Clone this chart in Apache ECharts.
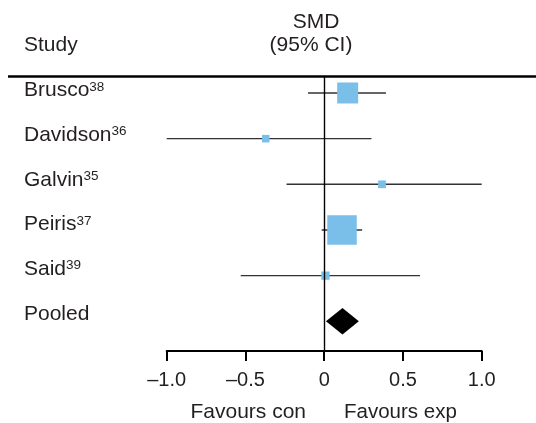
<!DOCTYPE html>
<html><head><meta charset="utf-8">
<script src="https://cdn.jsdelivr.net/npm/echarts@6/dist/echarts.min.js"></script>
<style>html,body{margin:0;padding:0;background:#fff}#c{width:536px;height:423px}</style>
</head><body><div id="c"></div>
<script>
// ---- data ----
const studies = ['Brusco', 'Davidson', 'Galvin', 'Peiris', 'Said', 'Pooled'];
const refs = ['38', '36', '35', '37', '39', ''];
const smd = [0.149, -0.371, 0.367, 0.113, 0.008];
const ciLow = [-0.103, -1.0, -0.239, -0.016, -0.53];
const ciHigh = [0.392, 0.30, 1.0, 0.241, 0.608];
const weights = [29.5, 3.8, 4.0, 58.2, 4.6]; // relative weight (%)
const pooled = [0.116, 0.011, 0.22]; // estimate, low, high
const xTicks = [-1.0, -0.5, 0, 0.5, 1.0];

const FONT = 'Liberation Sans, Arial, Helvetica, sans-serif';
const TXT = '#231f20';
const chart = echarts.init(document.getElementById('c'), null, {renderer: 'canvas'});

const studyData = smd.map((v, i) => [v, i, ciLow[i], ciHigh[i], weights[i]]);
const labelData = studies.map((s, i) => [0, i]);

chart.setOption({
  animation: false,
  grid: {left: 166.7, right: 54.3, top: 77, bottom: 72},
  xAxis: {
    type: 'value', min: -1, max: 1, interval: 0.5,
    axisLine: {show: true, onZero: false, lineStyle: {color: '#000', width: 2}},
    axisTick: {show: true, length: 10, inside: false, lineStyle: {color: '#000', width: 2}},
    splitLine: {show: false},
    axisLabel: {
      margin: 19, color: TXT, fontSize: 20, fontFamily: FONT,
      formatter: function (v) {
        const t = xTicks.find(x => Math.abs(x - v) < 1e-9);
        if (t === undefined) return '';
        if (t === 0) return '0';
        return (t < 0 ? '\u2013' : '') + Math.abs(t).toFixed(1);
      }
    }
  },
  yAxis: [
    {type: 'value', inverse: true, min: -0.35, max: 5.65, show: false},
    {type: 'value', inverse: true, min: -0.28, max: 5.855, show: false}
  ],
  graphic: [
    {type: 'line', shape: {x1: 8, y1: 76.5, x2: 536, y2: 76.5}, style: {stroke: '#000', lineWidth: 2.5}},
    {type: 'text', x: 24, y: 45, style: {text: 'Study', fill: TXT, font: '21px ' + FONT, verticalAlign: 'middle'}},
    {type: 'text', x: 316, y: 22, style: {text: 'SMD', fill: TXT, font: '21px ' + FONT, align: 'center', verticalAlign: 'middle'}},
    {type: 'text', x: 311, y: 45, style: {text: '(95% CI)', fill: TXT, font: '21px ' + FONT, align: 'center', verticalAlign: 'middle'}},
    {type: 'text', x: 306, y: 412, style: {text: 'Favours con', fill: TXT, font: '21px ' + FONT, align: 'right', verticalAlign: 'middle'}},
    {type: 'text', x: 344, y: 412, style: {text: 'Favours exp', fill: TXT, font: '20.5px ' + FONT, align: 'left', verticalAlign: 'middle'}}
  ],
  series: [
    {
      type: 'custom', coordinateSystem: 'cartesian2d', xAxisIndex: 0, yAxisIndex: 0,
      data: studyData, clip: false, silent: true,
      renderItem: function (params, api) {
        const y = api.value(1);
        const p = api.coord([api.value(0), y]);
        const a = api.coord([api.value(2), y]);
        const b = api.coord([api.value(3), y]);
        const s = Math.sqrt(api.value(4)) * 3.866;
        return {type: 'group', children: [
          {type: 'line', shape: {x1: a[0], y1: a[1], x2: b[0], y2: b[1]}, style: {stroke: '#333', lineWidth: 1.4}},
          {type: 'rect', shape: {x: p[0] - s / 2, y: p[1] - s / 2, width: s, height: s}, style: {fill: '#79bfea'}}
        ]};
      },
      markLine: {
        silent: true, symbol: 'none', label: {show: false},
        lineStyle: {color: '#000', width: 1.4, type: 'solid'},
        data: [{xAxis: 0}]
      },
      z: 3
    },
    {
      type: 'custom', coordinateSystem: 'cartesian2d', xAxisIndex: 0, yAxisIndex: 0,
      data: [[pooled[0], 5, pooled[1], pooled[2]]], clip: false, silent: true,
      renderItem: function (params, api) {
        const y = api.value(1);
        const c = api.coord([api.value(0), y]);
        const a = api.coord([api.value(2), y]);
        const b = api.coord([api.value(3), y]);
        const h = 13.3;
        return {type: 'polygon', shape: {points: [[a[0], c[1]], [c[0], c[1] - h], [b[0], c[1]], [c[0], c[1] + h]]}, style: {fill: '#000'}};
      },
      z: 4
    },
    {
      type: 'custom', coordinateSystem: 'cartesian2d', xAxisIndex: 0, yAxisIndex: 1,
      data: labelData, clip: false, silent: true,
      renderItem: function (params, api) {
        const i = api.value(1);
        const p = api.coord([0, i]);
        const r = refs[i];
        return {type: 'text', style: {
          x: 24, y: p[1] + 1, text: '{n|' + studies[i] + '}' + (r ? '{s|' + r + '}' : ''),
          verticalAlign: 'middle', align: 'left',
          rich: {
            n: {fontSize: 21, fontFamily: FONT, fill: TXT, color: TXT},
            s: {fontSize: 13.5, fontFamily: FONT, fill: TXT, color: TXT, verticalAlign: 'top'}
          }
        }};
      }
    }
  ]
});
</script></body></html>
